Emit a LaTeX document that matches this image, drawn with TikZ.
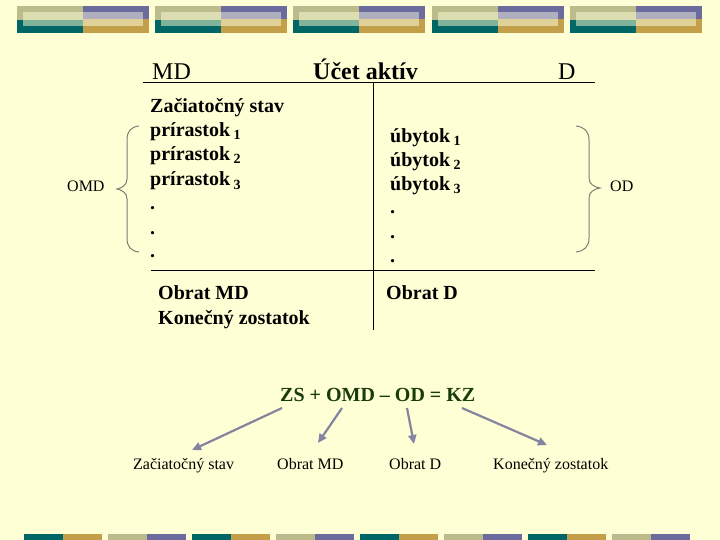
\documentclass[tikz,border=0pt]{standalone}
\usepackage{fontspec}
\setmainfont{Liberation Serif}
\usetikzlibrary{arrows.meta}
\definecolor{bg}{RGB}{255,255,214}
\definecolor{olive}{RGB}{187,187,140}
\definecolor{pale}{RGB}{220,221,176}
\definecolor{purp}{RGB}{107,107,157}
\definecolor{lpurp}{RGB}{176,175,192}
\definecolor{teal}{RGB}{0,102,102}
\definecolor{lteal}{RGB}{128,179,154}
\definecolor{gold}{RGB}{196,159,74}
\definecolor{lgold}{RGB}{224,209,152}
\definecolor{eqgreen}{RGB}{25,60,10}
\definecolor{arr}{RGB}{132,132,160}
\definecolor{brc}{RGB}{125,125,115}
\tikzset{
  txt/.style={inner sep=0pt,anchor=base west},
  hdr/.style={txt,font=\fontsize{24}{24}\selectfont},
  bld/.style={txt,font=\fontsize{20}{20}\selectfont\bfseries},
  sml/.style={txt,font=\fontsize{16}{16}\selectfont},
  rule/.style={line width=1pt,black},
  bracestyle/.style={brc,line width=1pt},
  arrowline/.style={arr,line width=2.2pt,-{Triangle[length=9pt,width=8pt]}}
}
\newcommand{\sbs}[1]{\,\raisebox{-3pt}{\fontsize{14}{14}\selectfont #1}}
\begin{document}
\begin{tikzpicture}[x=1pt,y=-1pt]
\useasboundingbox (0,0) rectangle (720,540);
\fill[bg] (0,0) rectangle (720,540);
% top decoration
\foreach \i in {0,...,4}{
  \begin{scope}[xshift=\i*138.2pt]
    \fill[olive] (17,6) rectangle (83,20);
    \fill[pale] (23,12) rectangle (83,20);
    \fill[teal] (17,20) rectangle (83,33);
    \fill[lteal] (23,20) rectangle (83,26);
    \fill[purp] (83,6) rectangle (149,19);
    \fill[lpurp] (83,12) rectangle (143,19);
    \fill[gold] (83,19) rectangle (149,33);
    \fill[lgold] (83,19) rectangle (143,26);
  \end{scope}
}
% bottom decoration
\foreach \i in {0,...,7}{
  \pgfmathparse{mod(\i,2)==0 ? "teal" : "olive"}\edef\ca{\pgfmathresult}
  \pgfmathparse{mod(\i,2)==0 ? "gold" : "purp"}\edef\cb{\pgfmathresult}
  \fill[\ca] (24+\i*84,534) rectangle (63+\i*84,540);
  \fill[\cb] (63+\i*84,534) rectangle (102+\i*84,540);
}
% header
\node[hdr] (md) at (152,80) {MD};
\node[hdr,font=\fontsize{24}{24}\selectfont\bfseries] (title) at (313,80) {Účet aktív};
\node[hdr] (d) at (558,80) {D};
% T account lines
\coordinate (t1) at (143,83);
\coordinate (t2) at (595,83);
\coordinate (m1) at (151,270);
\coordinate (m2) at (595,270);
\coordinate (v1) at (373,83);
\coordinate (v2) at (373,330);
\draw[rule] (t1) -- (t2);
\draw[rule] (m1) -- (m2);
\draw[rule] (v1) -- (v2);
% left column
\node[bld] (zs) at (150,113) {Začiatočný stav};
\node[bld] (p1) at (150,137) {prírastok\sbs{1}};
\node[bld] (p2) at (150,161) {prírastok\sbs{2}};
\node[bld] (p3) at (150,186) {prírastok\sbs{3}};
\node[bld] (ld1) at (150,210) {.};
\node[bld] (ld2) at (150,234) {.};
\node[bld] (ld3) at (150,258) {.};
% right column
\node[bld] (u1) at (390,143) {úbytok\sbs{1}};
\node[bld] (u2) at (390,167) {úbytok\sbs{2}};
\node[bld] (u3) at (390,191) {úbytok\sbs{3}};
\node[bld] (rd1) at (390,214) {.};
\node[bld] (rd2) at (390,238) {.};
\node[bld] (rd3) at (390,262) {.};
% totals
\node[bld] (omd) at (158,299) {Obrat MD};
\node[bld] (kz) at (158,324) {Konečný zostatok};
\node[bld] (od) at (386,299) {Obrat D};
% braces
\draw[bracestyle] (139,126) .. controls (131,127) and (127,131) .. (127,140)
  -- (127,179) .. controls (127,185) and (122,188) .. (117,189)
  .. controls (122,190) and (127,193) .. (127,199)
  -- (127,238) .. controls (127,247) and (131,251) .. (139,252);
\draw[bracestyle] (576,126) .. controls (584,127) and (589,131) .. (589,140)
  -- (589,178) .. controls (589,184) and (594,187) .. (600,188)
  .. controls (594,189) and (589,192) .. (589,198)
  -- (589,238) .. controls (589,247) and (584,251) .. (576,252);
\node[sml] (omdl) at (67,192) {OMD};
\node[sml] (odl) at (610,192) {OD};
% equation
\node[txt,font=\fontsize{20}{20}\selectfont\bfseries,text=eqgreen] (eq) at (280,401) {ZS + OMD – OD = KZ};
\node[sml] (b1) at (133,469) {Začiatočný stav};
\node[sml] (b2) at (277,469) {Obrat MD};
\node[sml] (b3) at (389,469) {Obrat D};
\node[sml] (b4) at (493,469) {Konečný zostatok};
\coordinate (s1) at (282,408);
\coordinate (s2) at (342,408);
\coordinate (s3) at (407,408);
\coordinate (s4) at (462,408);
\coordinate (e1) at (192,450);
\coordinate (e2) at (318,443);
\coordinate (e3) at (414,444);
\coordinate (e4) at (547,445);
\draw[arrowline] (s1) -- (e1);
\draw[arrowline] (s2) -- (e2);
\draw[arrowline] (s3) -- (e3);
\draw[arrowline] (s4) -- (e4);
\end{tikzpicture}
\end{document}
